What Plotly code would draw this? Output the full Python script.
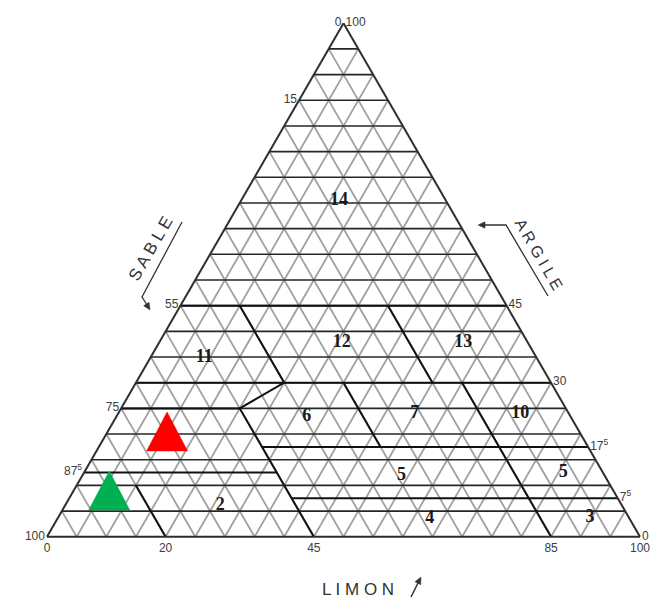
import plotly.graph_objects as go

# Soil texture triangle: a = argile (apex), b = sable (bottom-left), c = limon (bottom-right)
GRID_STEP = 5

# Edge labels (values printed along each side)
SABLE_TICKS = [0, 15, 55, 75, 87.5, 100]          # left side, sable %
ARGILE_TICKS = [100, 45, 30, 17.5, 7.5, 0]         # right side, argile %
LIMON_TICKS = [0, 20, 45, 85, 100]                 # bottom side, limon %

# Class boundaries as polylines of (argile, sable) pairs
BOUNDARIES = [
    [(45, 55), (45, 0)],
    [(30, 70), (30, 0)],
    [(25, 75), (25, 55)],
    [(45, 45), (30, 45), (25, 55), (0, 55)],
    [(30, 35), (17.5, 35)],
    [(45, 20), (30, 20)],
    [(30, 15), (0, 15)],
    [(10, 80), (0, 80)],
    [(12.5, 87.5), (12.5, 55)],
    [(17.5, 55), (17.5, 0)],
    [(7.5, 55), (7.5, 0)],
]

# Class numbers and their positions
CLASS_LABELS = ["14", "11", "12", "13", "6", "7", "10", "5", "5", "4", "3", "2"]
CLASS_ARGILE = [65.5, 35, 37.8, 37.8, 23.4, 24, 24, 12, 12.5, 3.5, 3.7, 6]
CLASS_SABLE = [18, 56, 31.4, 10.9, 44.5, 26, 8.2, 34.2, 6.7, 33.7, 6.6, 67.8]

# Samples plotted on the triangle
SAMPLE_ARGILE = [20.5, 9]
SAMPLE_SABLE = [69.5, 85]
SAMPLE_COLORS = ["#ff0000", "#00b050"]

# Layout geometry (pixels)
W, H = 653, 599
ML, MR, MT, MB = 47, 13, 23, 62
PLOT_W = W - ML - MR
PLOT_H = H - MT - MB
PX_PER_X = PLOT_W / 100.0
PX_PER_Y = PLOT_W * 3 ** 0.5 / 2 / 100.0
INK = "#333333"


def fmt(v):
    if abs(v - round(v)) > 1e-9:
        return f"{int(v)}<sup>5</sup>"
    return str(int(v))


def px(x):
    return (x - ML) / PLOT_W


def py(y):
    return (H - MB - y) / PLOT_H


fig = go.Figure()


def add_lines(polylines, color, width):
    a, b, c = [], [], []
    for line in polylines:
        for aa, ss in line:
            a.append(aa)
            b.append(ss)
            c.append(100 - aa - ss)
        a.append(None)
        b.append(None)
        c.append(None)
    fig.add_trace(go.Scatterternary(a=a, b=b, c=c, mode="lines",
                                    line=dict(color=color, width=width),
                                    hoverinfo="skip", connectgaps=False))


levels = list(range(GRID_STEP, 100, GRID_STEP))
# constant-sable and constant-limon grid lines (grey diagonals)
diag = []
for k in levels:
    diag.append([(100 - k, k), (0, k)])            # sable = k
    diag.append([(100 - k, 0), (0, 100 - k)])      # limon = k
add_lines(diag, "#a0a0a0", 1.8)

# constant-argile grid lines (dark horizontals)
horiz = [[(k, 100 - k), (k, 0)] for k in levels]
add_lines(horiz, "#262626", 1.6)

# class boundaries
add_lines(BOUNDARIES, "#111111", 2.0)

# class numbers
fig.add_trace(go.Scatterternary(
    a=CLASS_ARGILE, b=CLASS_SABLE,
    c=[100 - a - s for a, s in zip(CLASS_ARGILE, CLASS_SABLE)],
    mode="text", text=[f"<b>{t}</b>" for t in CLASS_LABELS],
    textfont=dict(family="Liberation Serif", size=18, color="#1a1a1a"),
    hoverinfo="skip"))


# sample markers drawn as filled triangles centred on each sample
def marker_polygon(a0, s0, half_w, half_h):
    l0 = 100 - a0 - s0
    da = half_h / PX_PER_Y
    dl = half_w / PX_PER_X
    pts = [(a0 + da, l0 - da / 2),
           (a0 - da, l0 + da / 2 - dl),
           (a0 - da, l0 + da / 2 + dl),
           (a0 + da, l0 - da / 2)]
    return [p[0] for p in pts], [100 - p[0] - p[1] for p in pts], [p[1] for p in pts]


for a0, s0, col in zip(SAMPLE_ARGILE, SAMPLE_SABLE, SAMPLE_COLORS):
    ta, tb, tc = marker_polygon(a0, s0, 20.5, 19.5)
    fig.add_trace(go.Scatterternary(a=ta, b=tb, c=tc, mode="lines", fill="toself",
                                    fillcolor=col, line=dict(color=col, width=0.5),
                                    hoverinfo="skip"))

tickfont = dict(family="Liberation Sans", size=12, color="#3c3c3c")
axis_common = dict(showgrid=False, showline=True, linecolor="#2e2e2e", linewidth=2,
                   ticks="", tickmode="array", tickfont=tickfont, color="#3c3c3c",
                   title=dict(text=""))

fig.update_layout(
    width=W, height=H,
    margin=dict(l=ML, r=MR, t=MT, b=MB),
    paper_bgcolor="white",
    showlegend=False,
    ternary=dict(
        sum=100,
        bgcolor="white",
        domain=dict(x=[0, 1], y=[0, 1]),
        aaxis=dict(axis_common, tickvals=[100 - v for v in SABLE_TICKS],
                   ticktext=[fmt(v) for v in SABLE_TICKS]),
        baxis=dict(axis_common, tickvals=[100 - v for v in LIMON_TICKS],
                   ticktext=[fmt(v) for v in LIMON_TICKS]),
        caxis=dict(axis_common, tickvals=[100 - v for v in ARGILE_TICKS],
                   ticktext=[fmt(v) for v in ARGILE_TICKS]),
    ),
)

# side titles
title_font = dict(family="Liberation Sans", size=17, color=INK)
for txt, x, y, ang, size in [("S A B L E", 150, 249, -60, 17),
                             ("A R G I L E", 538, 254, 60, 16),
                             ("L I M O N", 358, 589, 0, 17)]:
    fig.add_annotation(x=px(x), y=py(y), xref="paper", yref="paper",
                       xanchor="center", yanchor="middle", text=txt,
                       textangle=ang, showarrow=False, font=dict(title_font, size=size))


def stroke(points, width=1.3):
    path = "M " + " L ".join(f"{px(x):.5f},{py(y):.5f}" for x, y in points)
    fig.add_shape(type="path", xref="paper", yref="paper", path=path,
                  line=dict(color=INK, width=width))


def arrow_head(tail, head, length=7, half=3.2):
    dx, dy = head[0] - tail[0], head[1] - tail[1]
    n = (dx * dx + dy * dy) ** 0.5
    ux, uy = dx / n, dy / n
    bx, by = head[0] - ux * length, head[1] - uy * length
    p1 = (bx - uy * half, by + ux * half)
    p2 = (bx + uy * half, by - ux * half)
    path = (f"M {px(head[0]):.5f},{py(head[1]):.5f} L {px(p1[0]):.5f},{py(p1[1]):.5f} "
            f"L {px(p2[0]):.5f},{py(p2[1]):.5f} Z")
    fig.add_shape(type="path", xref="paper", yref="paper", path=path,
                  fillcolor=INK, line=dict(color=INK, width=0.5))


# pointer strokes beside the side titles
stroke([(182, 222), (142, 297), (149, 308)])
arrow_head((142, 297), (150, 310))
stroke([(548, 296), (506, 225), (482, 225)])
arrow_head((506, 225), (478, 225))
stroke([(411, 597), (419, 581)], width=1.6)
arrow_head((411, 597), (421, 577))

fig.write_html("out.html")
